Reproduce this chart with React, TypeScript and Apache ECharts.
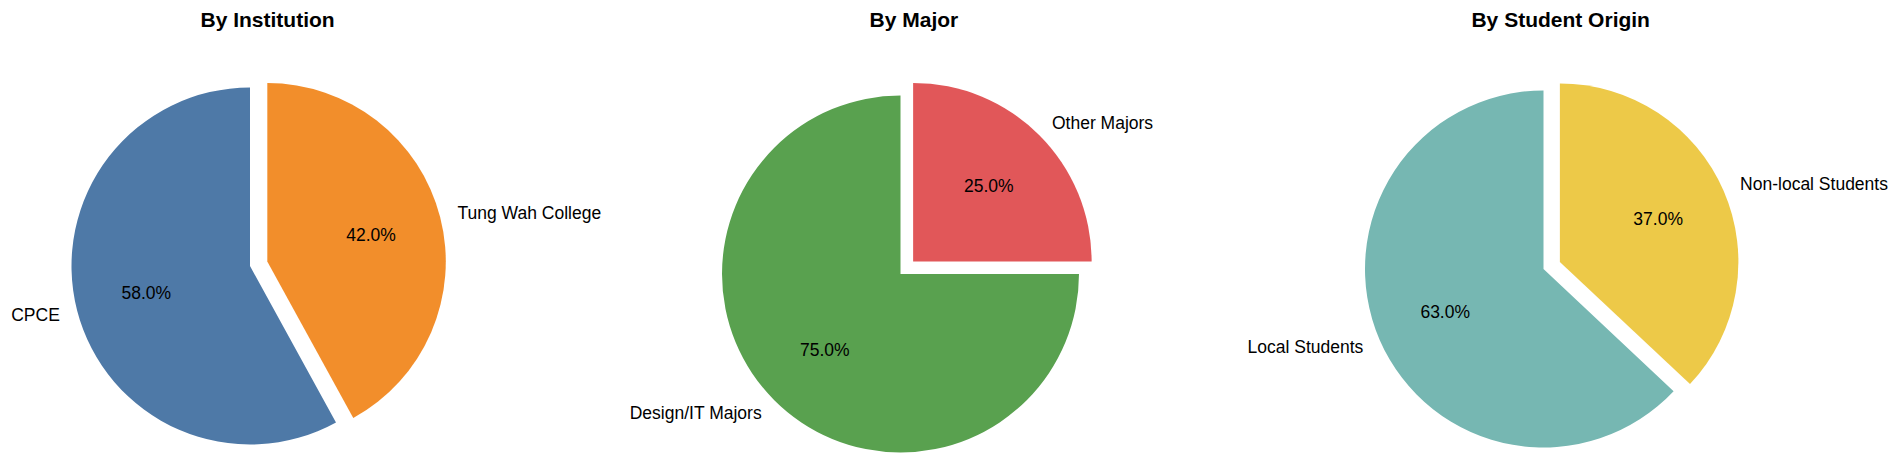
import React, { useEffect, useRef } from "react";
import * as echarts from "echarts";

// ---- data ----
const chartTitles = ["By Institution", "By Major", "By Student Origin"];

const institutionLabels = ["CPCE", "Tung Wah College"];
const institutionValues = [58, 42];
const institutionExplode = [false, true];

const majorLabels = ["Design/IT Majors", "Other Majors"];
const majorValues = [75, 25];
const majorExplode = [false, true];

const originLabels = ["Local Students", "Non-local Students"];
const originValues = [63, 37];
const originExplode = [false, true];

// ---- styling / layout ----
const institutionColors = ["#4e79a7", "#f28e2b"];
const majorColors = ["#59a14f", "#e15759"];
const originColors = ["#76b7b2", "#edc948"];

const W = 1901;
const H = 465;
const R = 178.5;
const centers: [number, number][] = [
  [250, 266],
  [900.5, 274],
  [1543.5, 269],
];
const titleX = [267.6, 913.9, 1560.7];
const titleTop = 9;

const labelFont = "'Liberation Sans', Arial, sans-serif";
const titleFont = "'Liberation Sans', Arial, sans-serif";
const labelSize = 17.5;

function makeSeries(
  labels: string[],
  values: number[],
  explode: boolean[],
  colors: string[],
  center: [number, number]
) {
  const common = {
    type: "pie",
    center,
    startAngle: 90,
    clockwise: false,
    selectedMode: "multiple",
    selectedOffset: 0.1 * R,
    avoidLabelOverlap: false,
    emphasis: { disabled: true },
    animation: false,
  };
  const main = {
    ...common,
    radius: R,
    label: {
      show: true,
      position: "outside",
      formatter: "{b}",
      fontSize: labelSize,
      fontFamily: labelFont,
      color: "#000",
      distanceToLabelLine: 0,
      textBorderWidth: 0,
      overflow: "none",
    },
    labelLine: { show: false, length: 0.1 * R, length2: 0 },
    itemStyle: { borderWidth: 0 },
    data: labels.map((name, i) => ({
      name,
      value: values[i],
      selected: explode[i],
      itemStyle: { color: colors[i], borderWidth: 0 },
    })),
  };
  const pct = {
    ...common,
    silent: true,
    radius: 1.2 * R - 6,
    label: {
      show: true,
      position: "inside",
      formatter: (p: any) => p.percent.toFixed(1) + "%",
      fontSize: labelSize,
      fontFamily: labelFont,
      color: "#000",
      textBorderWidth: 0,
    },
    labelLine: { show: false },
    itemStyle: { color: "rgba(0,0,0,0)", borderWidth: 0 },
    data: labels.map((name, i) => ({
      name,
      value: values[i],
      selected: explode[i],
      itemStyle: { color: "rgba(0,0,0,0)", borderWidth: 0 },
    })),
  };
  return [main, pct];
}

export default function App() {
  const ref = useRef<HTMLDivElement>(null);
  useEffect(() => {
    if (!ref.current) return;
    const chart = echarts.init(ref.current, undefined, { renderer: "svg" });
    chart.setOption({
      animation: false,
      backgroundColor: "#ffffff",
      title: chartTitles.map((t, i) => ({
        text: t,
        left: titleX[i],
        top: titleTop,
        textAlign: "center",
        padding: 0,
        textStyle: {
          fontSize: 21,
          fontWeight: "bold",
          color: "#000",
          fontFamily: titleFont,
        },
      })),
      series: [
        ...makeSeries(institutionLabels, institutionValues, institutionExplode, institutionColors, centers[0]),
        ...makeSeries(majorLabels, majorValues, majorExplode, majorColors, centers[1]),
        ...makeSeries(originLabels, originValues, originExplode, originColors, centers[2]),
      ],
    });
    return () => chart.dispose();
  }, []);
  return (
    <div
      ref={ref}
      style={{ position: "absolute", left: 0, top: 0, width: W, height: H, background: "#fff" }}
    />
  );
}
